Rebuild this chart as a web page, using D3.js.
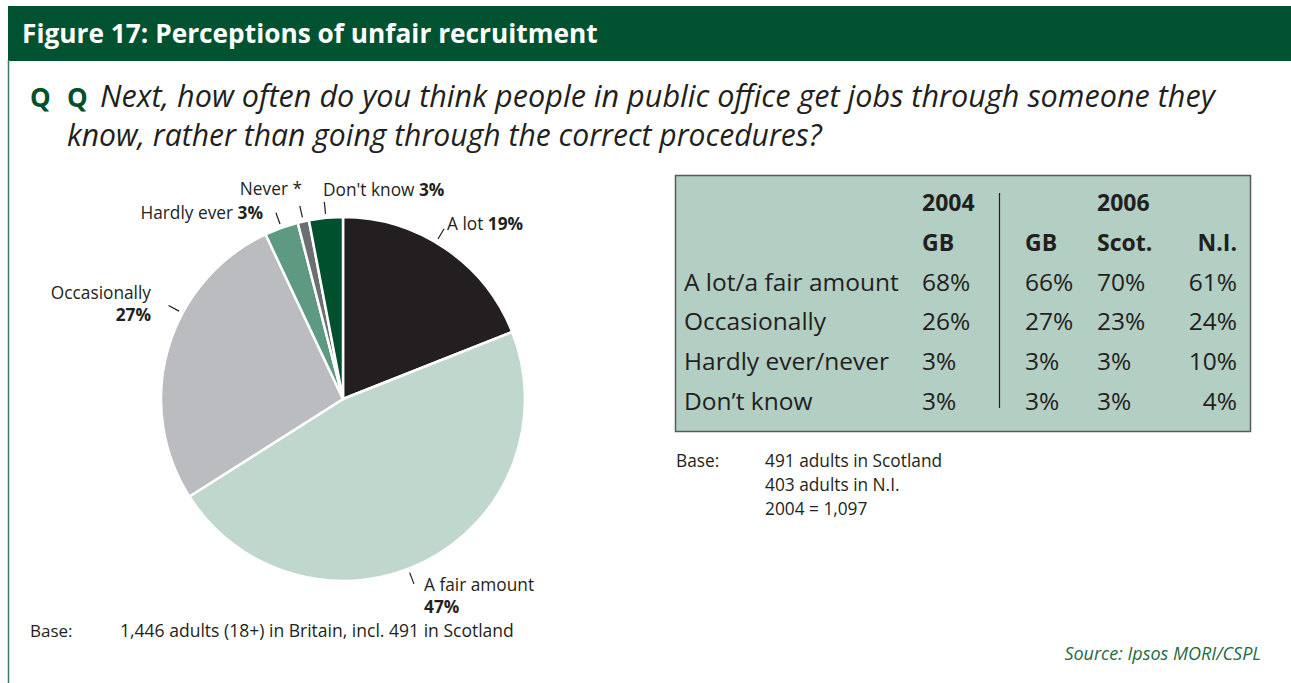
<!DOCTYPE html>
<html><head><meta charset="utf-8">
<script src="https://cdn.jsdelivr.net/npm/d3@7"></script>
<style>html,body{margin:0;padding:0;background:#fff;overflow:hidden}</style>
</head><body>
<svg id="c" width="1291" height="683"></svg>
<script>
// ---- data ----
const pieCategories = ["A lot", "A fair amount", "Occasionally", "Hardly ever", "Never", "Don't know"];
const pieValues = [19, 47, 27, 3, 1, 3];
const pieValueLabels = ["19%", "47%", "27%", "3%", "*", "3%"];
const pieColors = ["#231f20", "#c0d7cd", "#bbbcc0", "#5e9a82", "#6d6e71", "#00502d"];

const tableYears = ["2004", "2006"];
const tableColumns = ["GB", "GB", "Scot.", "N.I."];
const tableRowLabels = ["A lot/a fair amount", "Occasionally", "Hardly ever/never", "Don\u2019t know"];
const gb2004 = [68, 26, 3, 3];
const gb2006 = [66, 27, 3, 3];
const scot2006 = [70, 23, 3, 3];
const ni2006 = [61, 24, 10, 4];

const FONT = "'Open Sans', 'Noto Sans', sans-serif";
const GREEN = "#00502d";
const INK = "#231f20";

const svg = d3.select("#c");

function fit(sel, target) {
  const w = sel.node().getComputedTextLength();
  const fs = parseFloat(sel.attr("font-size"));
  sel.attr("font-size", (fs * target / w).toFixed(2));
  return sel;
}

// ---- frame ----
svg.append("rect").attr("x", 8).attr("y", 6).attr("width", 1283).attr("height", 55).attr("fill", "#005230");
svg.append("line").attr("x1", 8.5).attr("x2", 8.5).attr("y1", 60).attr("y2", 683).attr("stroke", "#3d7a5c").attr("stroke-width", 1.5);

fit(svg.append("text").attr("x", 22).attr("y", 43).attr("fill", "#fff").attr("font-family", FONT)
  .attr("font-weight", 700).attr("font-size", 24).text("Figure 17: Perceptions of unfair recruitment"), 576);

// ---- question ----
const qf = 26;
svg.append("text").attr("x", 30).attr("y", 107).attr("fill", GREEN).attr("font-family", FONT).attr("font-weight", 700).attr("font-size", qf).text("Q");
svg.append("text").attr("x", 67).attr("y", 107).attr("fill", GREEN).attr("font-family", FONT).attr("font-weight", 700).attr("font-size", qf).text("Q");
fit(svg.append("text").attr("x", 100).attr("y", 107).attr("fill", INK).attr("font-family", FONT).attr("font-style", "italic").attr("font-size", qf)
  .text("Next, how often do you think people in public office get jobs through someone they"), 1115);
fit(svg.append("text").attr("x", 67).attr("y", 146).attr("fill", INK).attr("font-family", FONT).attr("font-style", "italic").attr("font-size", qf)
  .text("know, rather than going through the correct procedures?"), 755);

// ---- pie ----
const cx = 343, cy = 399, R = 182;
const pie = d3.pie().sort(null).value(d => d)(pieValues);
const arc = d3.arc().innerRadius(0).outerRadius(R);
const g = svg.append("g").attr("transform", `translate(${cx},${cy})`);
g.selectAll("path").data(pie).join("path")
  .attr("d", arc).attr("fill", (d, i) => pieColors[i])
  .attr("stroke", "#fff").attr("stroke-width", 2.5).attr("stroke-linejoin", "round");

// leader ticks
const angleAdj = [-3.5, 6, 12, 0, 0, 0];
function pt(a, r) { return [Math.sin(a) * r, -Math.cos(a) * r]; }
const ticks = pie.map((d, i) => {
  const a = (d.startAngle + d.endAngle) / 2 + angleAdj[i] * Math.PI / 180;
  return { p0: pt(a, R + 4), p1: pt(a, R + 16) };
});
g.selectAll("line.tick").data(ticks).join("line").attr("class", "tick")
  .attr("x1", d => d.p0[0]).attr("y1", d => d.p0[1]).attr("x2", d => d.p1[0]).attr("y2", d => d.p1[1])
  .attr("stroke", INK).attr("stroke-width", 1.2);

// labels (layout kept in code)
const labelLayout = [
  { x: 447, y: 230, anchor: "start", lines: 1 },
  { x: 424, y: 591, anchor: "start", lines: 2 },
  { x: 151, y: 299, anchor: "end", lines: 2 },
  { x: 263, y: 219, anchor: "end", lines: 1 },
  { x: 302, y: 195, anchor: "end", lines: 1 },
  { x: 323, y: 196, anchor: "start", lines: 1 }
];
const LF = 17.3;
pieCategories.forEach((c, i) => {
  const L = labelLayout[i];
  const t = svg.append("text").attr("x", L.x).attr("y", L.y).attr("text-anchor", L.anchor)
    .attr("font-family", FONT).attr("font-size", LF).attr("fill", INK);
  if (L.lines === 1) {
    t.append("tspan").text(c + " ");
    t.append("tspan").attr("font-weight", pieValueLabels[i] === "*" ? 400 : 700).text(pieValueLabels[i]);
  } else {
    t.append("tspan").attr("x", L.x).text(c);
    t.append("tspan").attr("x", L.x).attr("dy", 22).attr("font-weight", 700).text(pieValueLabels[i]);
  }
});

// base
svg.append("text").attr("x", 30).attr("y", 637).attr("font-family", FONT).attr("font-size", 17).attr("fill", INK).text("Base:");
fit(svg.append("text").attr("x", 120).attr("y", 637).attr("font-family", FONT).attr("font-size", 17).attr("fill", INK)
  .text("1,446 adults (18+) in Britain, incl. 491 in Scotland"), 394);

// ---- table ----
svg.append("rect").attr("x", 675.5).attr("y", 175.5).attr("width", 575).attr("height", 256)
  .attr("fill", "#b3cec3").attr("stroke", "#5a5a5a").attr("stroke-width", 1.5);
svg.append("line").attr("x1", 999.5).attr("x2", 999.5).attr("y1", 193).attr("y2", 408).attr("stroke", INK).attr("stroke-width", 1.2);

const rowKeys = ["year", "region"].concat(tableRowLabels);
const y = d3.scalePoint().domain(rowKeys).range([211, 410]);
const colKeys = ["label", "gb04", "gb06", "scot06", "ni06"];
const colX = d3.scaleOrdinal().domain(colKeys).range([684, 922, 1025, 1097, 1237]);
const colAnchor = d3.scaleOrdinal().domain(colKeys).range(["start", "start", "start", "start", "end"]);

function cell(col, row, txt, bold) {
  svg.append("text").attr("x", colX(col)).attr("y", y(row)).attr("text-anchor", colAnchor(col))
    .attr("font-family", FONT).attr("font-size", bold ? 23 : 24.5).attr("font-weight", bold ? 700 : 400).attr("fill", INK).text(txt);
}
cell("gb04", "year", tableYears[0], true);
cell("scot06", "year", tableYears[1], true);
["gb04", "gb06", "scot06", "ni06"].forEach((k, i) => cell(k, "region", tableColumns[i], true));
const series = { gb04: gb2004, gb06: gb2006, scot06: scot2006, ni06: ni2006 };
tableRowLabels.forEach((r, ri) => {
  cell("label", r, r, false);
  Object.keys(series).forEach(k => cell(k, r, series[k][ri] + "%", false));
});

// table base
const baseLines = ["491 adults in Scotland", "403 adults in N.I.", "2004 = 1,097"];
svg.append("text").attr("x", 676).attr("y", 467).attr("font-family", FONT).attr("font-size", 17.3).attr("fill", INK).text("Base:");
baseLines.forEach((l, i) => svg.append("text").attr("x", 765).attr("y", 467 + i * 24)
  .attr("font-family", FONT).attr("font-size", 17.3).attr("fill", INK).text(l));

// source
svg.append("text").attr("x", 1261).attr("y", 660).attr("text-anchor", "end").attr("font-family", FONT)
  .attr("font-style", "italic").attr("font-size", 18).attr("fill", "#1f6b45").text("Source: Ipsos MORI/CSPL");
</script>
</body></html>
